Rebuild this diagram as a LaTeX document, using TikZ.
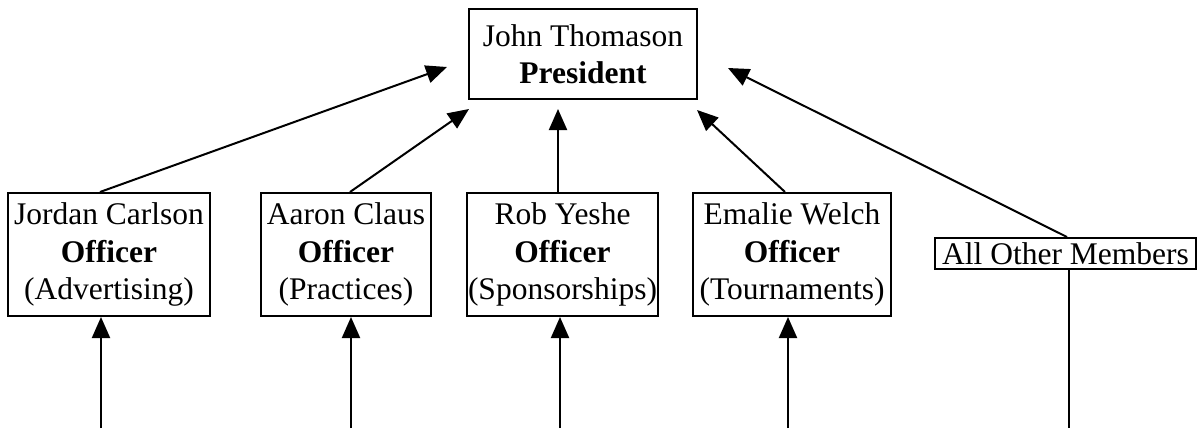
\documentclass[tikz,border=0pt]{standalone}
\usepackage{fontspec}
\setmainfont{Liberation Serif}
\usetikzlibrary{arrows.meta}
\tikzset{
  box/.style={draw, line width=2pt, inner sep=0pt, align=center,
    font=\fontsize{31.5}{37.5}\selectfont},
  conn/.style={line width=2pt},
  arr/.style={conn, -{Triangle[length=21pt, width=18pt]}}
}
\begin{document}
\begin{tikzpicture}[x=1pt, y=-1pt]
\useasboundingbox (0,0) rectangle (1198,428);
% boxes
\node[box, minimum width=228pt, minimum height=90pt] (pres) at (583,54) {John Thomason\\\textbf{President}};
\node[box, minimum width=202pt, minimum height=123pt] (jordan) at (109,254.5) {Jordan Carlson\\\textbf{Officer}\\(Advertising)};
\node[box, minimum width=170pt, minimum height=123pt] (aaron) at (346,254.5) {Aaron Claus\\\textbf{Officer}\\(Practices)};
\node[box, minimum width=191pt, minimum height=123pt] (rob) at (562.5,254.5) {Rob Yeshe\\\textbf{Officer}\\(Sponsorships)};
\node[box, minimum width=198pt, minimum height=123pt] (emalie) at (792,254.5) {Emalie Welch\\\textbf{Officer}\\(Tournaments)};
\node[box, minimum width=261pt, minimum height=31pt] (other) at (1065.5,253.5) {All Other Members};
% arrow tips near president
\coordinate (tj) at (447,67);
\coordinate (ta) at (469,109);
\coordinate (tr) at (558,109);
\coordinate (te) at (697,110);
\coordinate (to) at (728,68);
% bottom free ends
\coordinate (bj) at (101,428);
\coordinate (ba) at (351,428);
\coordinate (br) at (560,428);
\coordinate (be) at (788,428);
\coordinate (bo) at (1069,428);
% upward connectors
\draw[arr] ([xshift=-9pt]jordan.north) -- (tj);
\draw[arr] ([xshift=4pt]aaron.north) -- (ta);
\draw[arr] ([xshift=-4.5pt]rob.north) -- (tr);
\draw[arr] ([xshift=-7pt]emalie.north) -- (te);
\draw[arr] ([xshift=1.5pt]other.north) -- (to);
% bottom connectors
\draw[arr] (bj) -- (bj |- jordan.south);
\draw[arr] (ba) -- (ba |- aaron.south);
\draw[arr] (br) -- (br |- rob.south);
\draw[arr] (be) -- (be |- emalie.south);
\draw[conn] (bo |- other.south) -- (bo);
\end{tikzpicture}
\end{document}
